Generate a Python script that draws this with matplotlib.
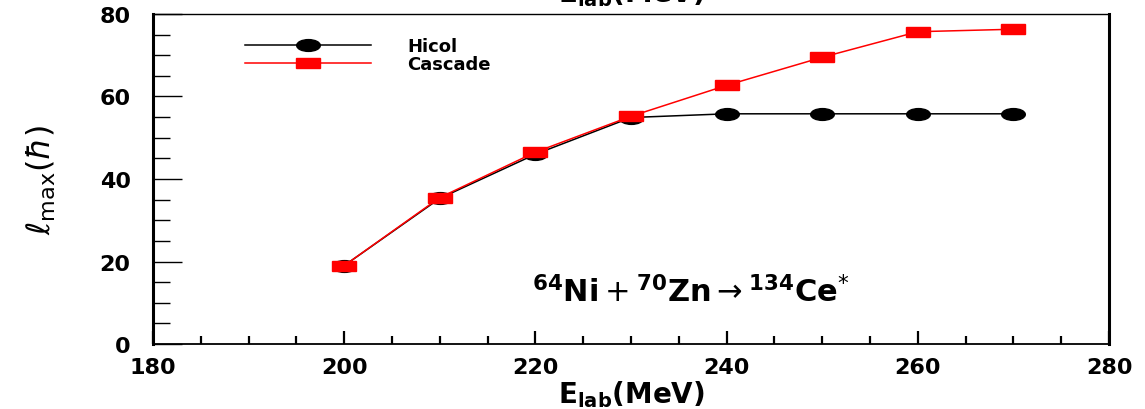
import matplotlib
matplotlib.use("Agg")
import matplotlib.pyplot as plt
from matplotlib.markers import MarkerStyle
from matplotlib.transforms import Affine2D

# beam energy (MeV)
e_lab = [200, 210, 220, 230, 240, 250, 260, 270]
# maximum angular momentum
hicol = [19.0, 35.3, 46.0, 54.9, 55.8, 55.8, 55.8, 55.8]
cascade = [19.0, 35.5, 46.5, 55.2, 62.7, 69.5, 75.7, 76.3]

fig = plt.figure(figsize=(11.45, 4.10), dpi=100)
ax = fig.add_axes([0.1336, 0.1585, 0.835, 0.805])

circ = MarkerStyle("o", transform=Affine2D().scale(1, 0.5))
sq = MarkerStyle("s", transform=Affine2D().scale(1, 0.46))

ax.plot(e_lab, hicol, color="black", lw=1.1, marker=circ, ms=17,
        mec="black", mfc="black", label="Hicol")
ax.plot(e_lab, cascade, color="red", lw=1.1, marker=sq, ms=17,
        mec="red", mfc="red", label="Cascade")

ax.set_xlim(180, 280)
ax.set_ylim(0, 80)
ax.set_xticks([180, 200, 220, 240, 260, 280])
ax.set_yticks([0, 20, 40, 60, 80])
ax.set_xticks(range(180, 281, 5), minor=True)
ax.set_yticks(range(0, 81, 5), minor=True)

ax.tick_params(axis="x", which="major", direction="in", length=9.5, width=1.6, pad=9)
ax.tick_params(axis="x", which="minor", direction="in", length=5.5, width=1.6)
ax.tick_params(axis="y", which="major", direction="in", length=21, width=1.0, pad=16)
ax.tick_params(axis="y", which="minor", direction="in", length=12, width=1.0)
for lab in ax.get_xticklabels() + ax.get_yticklabels():
    lab.set_fontsize(16)
    lab.set_fontweight("bold")

ax.spines["left"].set_linewidth(2.2)
ax.spines["right"].set_linewidth(2.2)
ax.spines["bottom"].set_linewidth(1.3)
ax.spines["top"].set_linewidth(1.0)

ax.set_xlabel(r"$\mathbf{E_{lab}(MeV)}$", fontsize=20, labelpad=1)
ax.set_ylabel(r"$\ell_{\rm max}(\hbar)$", fontsize=23, labelpad=30)

# cut-off copy of the axis title at the very top
fig.text(0.551, 0.995, r"$\mathbf{E_{lab}(MeV)}$", fontsize=20,
         ha="center", va="baseline")

ax.text(236.3, 12.8,
        r"$^{\mathbf{64}}\mathbf{Ni}+^{\mathbf{70}}\mathbf{Zn}\rightarrow^{\mathbf{134}}\mathbf{Ce}^{*}$",
        fontsize=22, ha="center", va="center")

leg = ax.legend(loc="center left", bbox_to_anchor=(0.096, 0.876),
                frameon=False, borderpad=0, borderaxespad=0,
                handlelength=7, handletextpad=2.0, labelspacing=0.0,
                prop={"weight": "bold", "size": 13})

fig.savefig("out.png", dpi=100)
